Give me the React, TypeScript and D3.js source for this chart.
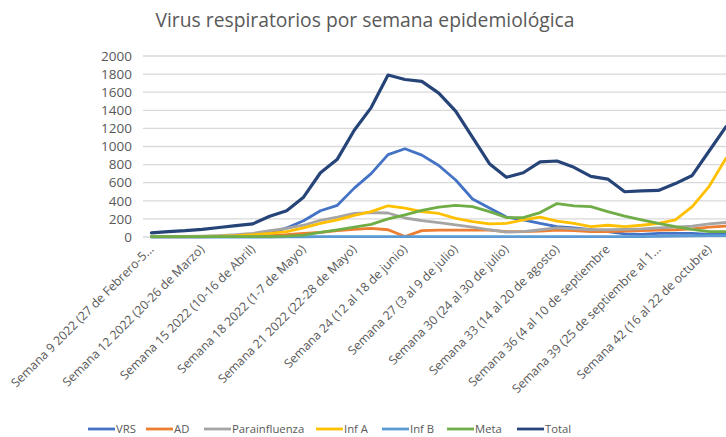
import * as d3 from "d3";
import { useEffect, useRef } from "react";

// weeks (semanas epidemiológicas 2022)
const weeks = [9, 10, 11, 12, 13, 14, 15, 16, 17, 18, 19, 20, 21, 22, 23, 24, 25, 26, 27, 28, 29, 30, 31, 32, 33, 34, 35, 36, 37, 38, 39, 40, 41, 42, 43];

const vrs = [5, 5, 5, 5, 10, 15, 20, 40, 100, 180, 290, 350, 540, 700, 910, 975, 905, 790, 630, 420, 320, 220, 190, 150, 115, 100, 80, 60, 35, 30, 40, 40, 40, 30, 30];
const ad = [2, 2, 3, 3, 5, 5, 8, 15, 25, 40, 50, 70, 85, 95, 80, 5, 70, 75, 75, 75, 75, 60, 60, 65, 75, 70, 60, 60, 65, 70, 75, 80, 90, 110, 120];
const parainfluenza = [5, 5, 8, 10, 15, 25, 40, 70, 95, 130, 185, 220, 260, 270, 265, 210, 180, 160, 135, 110, 80, 55, 60, 80, 100, 90, 80, 80, 85, 90, 100, 110, 120, 145, 160];
const infA = [5, 5, 5, 8, 10, 15, 25, 40, 60, 100, 150, 190, 240, 280, 345, 320, 280, 260, 205, 170, 145, 150, 190, 220, 175, 150, 115, 130, 115, 130, 150, 190, 335, 560, 870];
const infB = [0, 0, 0, 0, 0, 0, 0, 0, 2, 3, 5, 5, 5, 5, 5, 5, 5, 5, 5, 5, 5, 5, 5, 5, 5, 5, 5, 5, 5, 5, 8, 10, 12, 15, 15];
const meta = [5, 5, 5, 5, 5, 5, 5, 5, 10, 20, 50, 80, 110, 140, 200, 245, 295, 330, 350, 335, 280, 215, 215, 270, 370, 345, 335, 280, 230, 190, 150, 115, 85, 60, 60];
const total = [45, 60, 70, 85, 105, 125, 145, 230, 290, 440, 710, 860, 1180, 1430, 1790, 1740, 1720, 1590, 1390, 1100, 810, 660, 710, 830, 840, 770, 670, 640, 500, 510, 515, 590, 680, 950, 1220];

const seriesNames = ["VRS", "AD", "Parainfluenza", "Inf A", "Inf B", "Meta", "Total"];
const seriesColors = ["#4472C4", "#ED7D31", "#A5A5A5", "#FFC000", "#5B9BD5", "#70AD47", "#264478"];

const yTicks = [0, 200, 400, 600, 800, 1000, 1200, 1400, 1600, 1800, 2000];

const tickWeeks = [9, 12, 15, 18, 21, 24, 27, 30, 33, 36, 39, 42];
const tickLabels = [
  "Semana 9 2022 (27 de Febrero-5...",
  "Semana 12 2022 (20-26 de Marzo)",
  "Semana 15 2022 (10-16 de Abril)",
  "Semana 18 2022 (1-7 de Mayo)",
  "Semana 21 2022 (22-28 de Mayo)",
  "Semana 24 (12 al 18 de junio)",
  "Semana 27 (3 al 9 de julio)",
  "Semana 30 (24 al 30 de julio)",
  "Semana 33 (14 al 20 de agosto)",
  "Semana 36 (4 al 10 de septiembre",
  "Semana 39 (25 de septiembre al 1...",
  "Semana 42 (16 al 22 de octubre)",
];

const WIDTH = 726;
const HEIGHT = 437;
const FONT = "'Open Sans', sans-serif";
const TEXT = "#595959";

const App = () => {
  const svgRef = useRef<SVGSVGElement>(null);

  useEffect(() => {
    const svg = d3.select(svgRef.current);
    svg.selectAll("*").remove();

    const left = 143;
    const top = 56;
    const bottom = 237;
    const step = 16.9;

    const x = d3
      .scaleBand<number>()
      .domain(weeks)
      .range([left, left + step * weeks.length]);
    const cx = (w: number) => (x(w) as number) + x.bandwidth() / 2;
    const y = d3.scaleLinear().domain([0, 2000]).range([bottom, top]);

    // title
    svg
      .append("text")
      .attr("x", 365)
      .attr("y", 27)
      .attr("text-anchor", "middle")
      .attr("font-family", FONT)
      .attr("font-size", 19.3)
      .attr("fill", TEXT)
      .text("Virus respiratorios por semana epidemiológica");

    // gridlines
    svg
      .append("g")
      .selectAll("line")
      .data(yTicks)
      .join("line")
      .attr("x1", left)
      .attr("x2", left + step * weeks.length)
      .attr("y1", (d) => y(d))
      .attr("y2", (d) => y(d))
      .attr("stroke", "#D9D9D9")
      .attr("stroke-width", 1.3);

    // y labels
    svg
      .append("g")
      .selectAll("text")
      .data(yTicks)
      .join("text")
      .attr("x", 132)
      .attr("y", (d) => y(d))
      .attr("dy", "0.35em")
      .attr("text-anchor", "end")
      .attr("font-family", FONT)
      .attr("font-size", 13.5)
      .attr("fill", TEXT)
      .text((d) => d);

    // x labels
    svg
      .append("g")
      .selectAll("text")
      .data(tickWeeks)
      .join("text")
      .attr("transform", (d) => `translate(${cx(d) + 3},${250}) rotate(-45)`)
      .attr("text-anchor", "end")
      .attr("font-family", FONT)
      .attr("font-size", 12.3)
      .attr("fill", TEXT)
      .text((d, i) => tickLabels[i]);

    // lines
    const allSeries = [vrs, ad, parainfluenza, infA, infB, meta, total];
    const line = d3
      .line<number>()
      .x((d, i) => cx(weeks[i]))
      .y((d) => y(d));

    allSeries.forEach((values, i) => {
      svg
        .append("path")
        .datum(values)
        .attr("fill", "none")
        .attr("stroke", seriesColors[i])
        .attr("stroke-width", i === 6 ? 3.2 : 2.8)
        .attr("stroke-linejoin", "round")
        .attr("stroke-linecap", "round")
        .attr("d", line);
    });

    // legend
    const legendX = [88, 146, 204, 316, 382, 447, 517];
    const legend = svg
      .append("g")
      .selectAll("g")
      .data(seriesNames)
      .join("g")
      .attr("transform", (d, i) => `translate(${legendX[i]},429)`);
    legend
      .append("line")
      .attr("x1", 0)
      .attr("x2", 27)
      .attr("stroke", (d, i) => seriesColors[i])
      .attr("stroke-width", 2.8);
    legend
      .append("text")
      .attr("x", 28)
      .attr("dy", "0.35em")
      .attr("font-family", FONT)
      .attr("font-size", 11.3)
      .attr("fill", TEXT)
      .text((d) => d);
  }, []);

  return (
    <svg
      ref={svgRef}
      width={WIDTH}
      height={HEIGHT}
      style={{ position: "absolute", left: 0, top: 0, background: "#fff" }}
    ></svg>
  );
};

export default App;
